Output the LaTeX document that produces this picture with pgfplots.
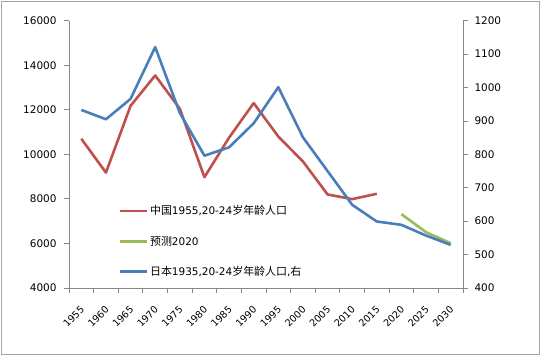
\documentclass[border=0pt]{standalone}
\usepackage{fontspec}
\setmainfont{DejaVu Sans}
\newfontfamily\cjk{Noto Sans CJK SC}
\usepackage{pgfplots}
\pgfplotsset{compat=1.18}
\definecolor{cred}{RGB}{192,80,77}
\definecolor{cgreen}{RGB}{155,187,89}
\definecolor{cblue}{RGB}{74,126,187}
\definecolor{axgray}{RGB}{134,134,134}
\pgfplotsset{
  common/.style={
    at={(69bp,68bp)}, anchor=south west,
    scale only axis, width=394bp, height=267.3bp,
    xmin=-0.5, xmax=15.5,
    tick align=outside,
    major tick length=5bp, minor tick length=5bp,
    axis line style={axgray, line width=0.8bp},
    tick style={axgray, line width=0.8bp},
    /pgf/number format/assume math mode=true,
    /pgf/number format/1000 sep={},
    scaled y ticks=false,
    tick label style={font=\fontsize{10.5}{12}\selectfont, text=black},
  }
}
\begin{document}
\begin{tikzpicture}
\path (0,0) rectangle (541bp,356bp);
\draw[gray!70, line width=1bp] (1.5bp,1.2bp) rectangle (539.5bp,354.7bp);
\begin{axis}[common,
  ymin=4000, ymax=16000,
  ytick={4000,6000,...,16000},
  axis x line*=bottom, axis y line*=left,
  xtick={0,...,15},
  xticklabels={1955,1960,1965,1970,1975,1980,1985,1990,1995,2000,2005,2010,2015,2020,2025,2030},
  major x tick style={draw=none},
  minor xtick={-0.5,0.5,...,15.5},
  xticklabel style={font=\fontsize{9.7}{11}\selectfont, yshift=-12bp, xshift=-1.5bp, rotate=45, anchor=north east, inner sep=0pt},
  yticklabel style={xshift=-4bp},
]
\addplot[cred, line width=2.6bp, line join=round] coordinates {(0,10700) (1,9180) (2,12180) (3,13540) (4,12050) (5,8975) (6,10750) (7,12300) (8,10800) (9,9680) (10,8200) (11,7990) (12,8230)};
\end{axis}
\begin{axis}[common,
  ymin=400, ymax=1200,
  ytick={400,500,...,1200},
  axis y line*=right, axis x line=none,
  yticklabel style={xshift=3bp},
  legend style={at={(0.125,0.316)}, anchor=north west, draw=none, fill=none,
    row sep=15.5bp, font=\fontsize{10.5}{12}\selectfont, inner sep=0pt},
  legend cell align=left,
  legend image code/.code={\draw[#1, line width=2.6bp] (0bp,0bp) -- (27bp,0bp);},
]
\addlegendimage{cred, line width=2.6bp}
\addlegendentry{{\cjk\fontsize{11}{12}\selectfont 中国}1955,20-24{\cjk\fontsize{11}{12}\selectfont 岁年龄人口}}
\addplot[cgreen, line width=2.6bp, line join=round] coordinates {(13,621) (14,567) (15,534)};
\addlegendentry{{\cjk\fontsize{11}{12}\selectfont 预测}2020}
\addplot[cblue, line width=2.6bp, line join=round] coordinates {(0,933) (1,905) (2,966) (3,1121) (4,924) (5,796) (6,821) (7,893) (8,1001) (9,851) (10,750) (11,649) (12,599) (13,589) (14,557) (15,529)};
\addlegendentry{{\cjk\fontsize{11}{12}\selectfont 日本}1935,20-24{\cjk\fontsize{11}{12}\selectfont 岁年龄人口}{,}{\cjk\fontsize{11}{12}\selectfont 右}}
\end{axis}
\end{tikzpicture}
\end{document}
